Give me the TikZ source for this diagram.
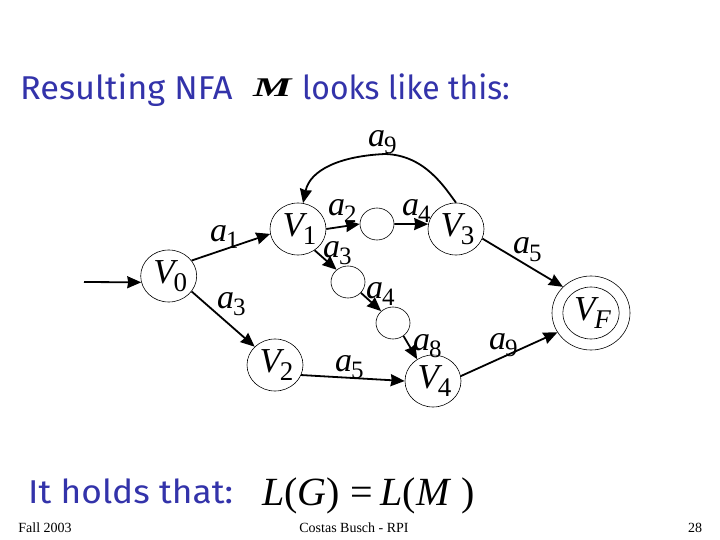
\documentclass[tikz,border=0pt]{standalone}
\usepackage{fontspec}
\usepackage{graphicx}
\setmainfont{Liberation Serif}
\newfontfamily\ttl{Fira Sans}
\usetikzlibrary{shapes.geometric,arrows.meta}
\definecolor{ttlblue}{RGB}{51,51,170}
\newcommand{\lab}[2]{{\fontsize{34}{34}\selectfont\itshape #1}\kern-1pt\raisebox{-7pt}{\fontsize{25}{25}\selectfont #2}}
\newcommand{\vlab}[2]{\hspace*{3pt}{\fontsize{35}{35}\selectfont\itshape #1}\kern-1pt\raisebox{-8pt}{\fontsize{27}{27}\selectfont #2}}
\newcommand{\flab}{\hspace*{3pt}{\fontsize{35}{35}\selectfont\itshape V}\kern-1pt\raisebox{-8pt}{\fontsize{27}{27}\selectfont\itshape F}}
\tikzset{
 st/.style={draw,ellipse,line width=0.6pt,inner sep=0pt,minimum width=56pt,minimum height=52pt},
 sm/.style={draw,ellipse,line width=0.6pt,inner sep=0pt,minimum width=34pt,minimum height=32pt},
 fin/.style={draw,ellipse,line width=0.6pt,inner sep=0pt,minimum width=78pt,minimum height=74pt},
 tx/.style={inner sep=0pt,anchor=base west},
 ed/.style={line width=1.8pt,-{Stealth[length=14pt,width=12pt,inset=1pt]}},
 tl/.style={inner sep=0pt,anchor=base west,text=ttlblue,font=\ttl\fontsize{33}{33}\selectfont},
 ft/.style={inner sep=0pt,anchor=base,font=\fontsize{14}{14}\selectfont}
}
\begin{document}
\begin{tikzpicture}[x=1pt,y=-1pt]
\useasboundingbox (0,0) rectangle (720,540);
\fill[white] (0,0) rectangle (720,540);
\node[st] (v0) at (168.7,276) {\vlab{V}{0}};
\node[st] (v1) at (298,229) {\vlab{V}{1}};
\node[sm] (q1) at (377,224) {};
\node[st] (v3) at (456,229) {\vlab{V}{3}};
\node[sm] (q2) at (348,282) {};
\node[sm] (q3) at (393,323) {};
\node[st] (v2) at (275,365) {\vlab{V}{2}};
\node[st] (v4) at (433,381) {\vlab{V}{4}};
\node[fin] (vf) at (591,313) {};
\node[st] (vfi) at (591,313) {\flab};
\coordinate (start) at (84,282);
\draw[ed] (start) -- (v0.193);
\draw[ed] (v0.34.5) -- (v1.190);
\draw[ed] (v0.-34.5) -- (v2.138);
\draw[ed] (v1.0) -- (q1.180);
\draw[ed] (v1.-52) -- (q2.133);
\draw[ed] (q1.0) -- (v3.170);
\draw[ed] (q2.-40) -- (q3.135);
\draw[ed] (q3.-51) -- (v4.126);
\draw[ed] (v2.-21) -- (v4.180);
\draw[ed] (v4.10) -- (vf.210);
\draw[ed] (v3.-20) -- (vf.137);
\draw[ed] (v3.90) .. controls (445,188) and (425,155) .. (385,154) .. controls (340,156) and (310,170) .. (v1.79);
\node[tx] (l1) at (210,241) {\lab{a}{1}};
\node[tx] (l2) at (217,308) {\lab{a}{3}};
\node[tx] (l3) at (328,215) {\lab{a}{2}};
\node[tx] (l4) at (323,257) {\lab{a}{3}};
\node[tx] (l5) at (402,215) {\lab{a}{4}};
\node[tx] (l6) at (366,298) {\lab{a}{4}};
\node[tx] (l7) at (513,254) {\lab{a}{5}};
\node[tx] (l8) at (335,371) {\lab{a}{5}};
\node[tx] (l9) at (413,350) {\lab{a}{8}};
\node[tx] (l10) at (489,349) {\lab{a}{9}};
\node[tx] (l11) at (368,147) {\lab{a}{9}};
\node[tl] (t1) at (20,100) {\scalebox{1.04}[1]{Resulting NFA}};
\node[tx] (m) at (253,97) {\scalebox{1.6}[1]{\fontsize{27}{27}\selectfont\itshape\bfseries M}};
\node[tl] (t2) at (302,100) {\scalebox{0.965}[1]{looks like this:}};
\node[tl] (t3) at (28,503) {\scalebox{1.07}[1]{It holds that:}};
\node[tx] (lg) at (262,505) {\fontsize{40}{40}\selectfont\textit{L}(\textit{G})\kern11pt=\kern7pt\textit{L}(\textit{M}\kern10pt)};
\node[ft] (f1) at (45,532) {Fall 2003};
\node[ft] (f2) at (354,532) {Costas Busch - RPI};
\node[ft] (f3) at (695,532) {28};
\end{tikzpicture}
\end{document}
